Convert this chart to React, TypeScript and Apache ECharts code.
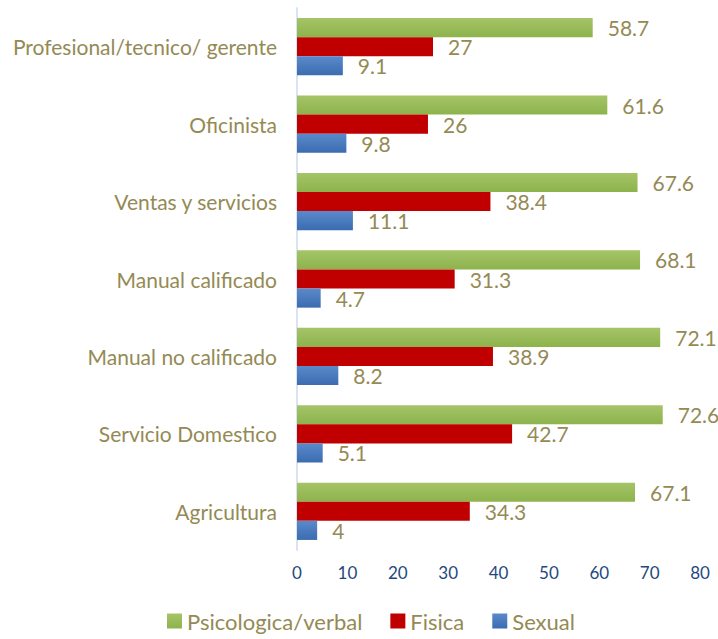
import React, { useEffect, useRef } from "react";
import * as echarts from "echarts";

const categories = [
  "Profesional/tecnico/ gerente",
  "Oficinista",
  "Ventas y servicios",
  "Manual calificado",
  "Manual no calificado",
  "Servicio Domestico",
  "Agricultura",
];
const psicologica = [58.7, 61.6, 67.6, 68.1, 72.1, 72.6, 67.1];
const fisica = [27, 26, 38.4, 31.3, 38.9, 42.7, 34.3];
const sexual = [9.1, 9.8, 11.1, 4.7, 8.2, 5.1, 4];
const xTicks = [0, 80, 10];

const FONT = "Lato";
const OLIVE = "#948A54";

export default function App() {
  const ref = useRef<HTMLDivElement>(null);
  useEffect(() => {
    const chart = echarts.init(ref.current!, null, { renderer: "svg" });
    const label = {
      show: true,
      position: "right",
      distance: 15,
      color: OLIVE,
      fontSize: 21,
      fontFamily: FONT,
    };
    const green = new echarts.graphic.LinearGradient(0, 0, 0, 1, [
      { offset: 0, color: "#A5C468" },
      { offset: 1, color: "#8DB34C" },
    ]);
    const blue = new echarts.graphic.LinearGradient(0, 0, 0, 1, [
      { offset: 0, color: "#5A8ACB" },
      { offset: 1, color: "#3B6CB0" },
    ]);
    chart.setOption({
      animation: false,
      textStyle: { fontFamily: FONT },
      grid: { left: 297, right: 18, top: 8, bottom: 89, containLabel: false },
      legend: {
        bottom: 2,
        left: 162,
        itemWidth: 15,
        itemHeight: 15,
        itemGap: 28,
        icon: "rect",
        textStyle: { color: OLIVE, fontSize: 22, fontFamily: FONT },
        data: ["Psicologica/verbal", "Fisica", "Sexual"],
      },
      xAxis: {
        type: "value",
        min: xTicks[0],
        max: xTicks[1],
        interval: xTicks[2],
        axisLine: { show: false },
        axisTick: { show: false },
        splitLine: { show: false },
        axisLabel: { color: "#1F497D", fontSize: 17, fontFamily: FONT, margin: 14 },
      },
      yAxis: {
        type: "category",
        data: categories,
        inverse: true,
        axisLine: { show: true, lineStyle: { color: "#D9E3F1", width: 2 } },
        axisTick: { show: false },
        axisLabel: { color: OLIVE, fontSize: 21, fontFamily: FONT, margin: 20 },
      },
      series: [
        {
          name: "Psicologica/verbal",
          type: "bar",
          data: psicologica,
          itemStyle: { color: green },
          label,
          barGap: "0%",
          barCategoryGap: "26%",
        },
        {
          name: "Fisica",
          type: "bar",
          data: fisica,
          itemStyle: { color: "#C00000" },
          label,
        },
        {
          name: "Sexual",
          type: "bar",
          data: sexual,
          itemStyle: { color: blue },
          label,
        },
      ],
    });
    return () => chart.dispose();
  }, []);
  return (
    <div
      ref={ref}
      style={{ position: "absolute", left: 0, top: 0, width: 718, height: 639 }}
    />
  );
}
